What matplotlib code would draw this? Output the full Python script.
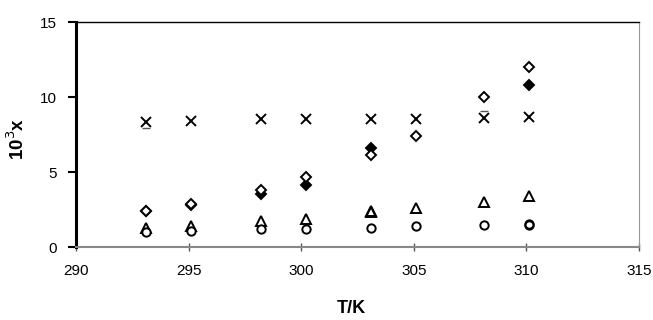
import numpy as np
import matplotlib.pyplot as plt

plt.rcParams['font.family'] = ['Liberation Sans', 'DejaVu Sans']

T = [293.1, 295.1, 298.2, 300.2, 303.1, 305.1, 308.1, 310.1]
x_cross = [8.36, 8.41, 8.52, 8.52, 8.52, 8.52, 8.62, 8.70]
x_open_diamond = [2.44, 2.88, 3.81, 4.66, 6.14, 7.43, 9.98, 11.98]
T_filled = [293.1, 295.1, 298.2, 300.2, 303.1, 310.1]
x_filled_diamond = [2.40, 2.82, 3.55, 4.15, 6.63, 10.80]
x_triangle = [1.30, 1.42, 1.75, 1.90, 2.44, 2.60, 3.04, 3.44]
T_tri2 = [303.1]
x_triangle2 = [2.34]
x_circle = [1.00, 1.10, 1.20, 1.20, 1.30, 1.40, 1.48, 1.55]
T_circ2 = [310.1]
x_circle2 = [1.50]
T_dash = [293.1, 308.1]
x_dash = [7.96, 9.07]

fig = plt.figure(figsize=(6.53, 3.2), dpi=100)
ax = fig.add_axes([0.1164, 0.227, 0.862, 0.704])

mk = dict(linestyle='none', markeredgecolor='black', markeredgewidth=1.4, clip_on=False)
ax.plot(T, x_cross, marker='x', markersize=7.5, color='black', **mk)
ax.plot(T_filled, x_filled_diamond, marker='D', markersize=5.5, markerfacecolor='black', **mk)
ax.plot(T, x_open_diamond, marker='D', markersize=5.5, markerfacecolor='white', **mk)
ax.plot(T, x_triangle, marker='^', markersize=7, markerfacecolor='white', **mk)
ax.plot(T_tri2, x_triangle2, marker='^', markersize=7, markerfacecolor='none', **mk)
ax.plot(T, x_circle, marker='o', markersize=6, markerfacecolor='white', **mk)
ax.plot(T_circ2, x_circle2, marker='o', markersize=6, markerfacecolor='none', **mk)
ax.plot(T_dash, x_dash, marker='_', markersize=6, color='#555555', linestyle='none')

ax.set_xlim(290, 315)
ax.set_ylim(0, 15)
ax.set_xticks([290, 295, 300, 305, 310, 315])
ax.set_yticks([0, 5, 10, 15])

ax.spines['left'].set_linewidth(2.2)
ax.spines['left'].set_color('black')
ax.spines['bottom'].set_linewidth(1.5)
ax.spines['bottom'].set_color('#888888')
ax.spines['top'].set_linewidth(1.0)
ax.spines['top'].set_color('black')
ax.spines['right'].set_linewidth(0.8)
ax.spines['right'].set_color('#999999')

ax.tick_params(axis='y', direction='out', length=6, width=1.5, labelsize=11, pad=8)
ax.tick_params(axis='x', direction='inout', length=6, width=1, color='#555555', labelsize=11, pad=9)

ax.set_xlabel('T/K', fontsize=13, fontweight='bold')
ax.set_ylabel('10$^{3}$x', fontsize=13.5, fontweight='bold')
ax.xaxis.set_label_coords(0.489, -0.235)
ax.yaxis.set_label_coords(-0.085, 0.482)

fig.savefig('out.png', dpi=100)
